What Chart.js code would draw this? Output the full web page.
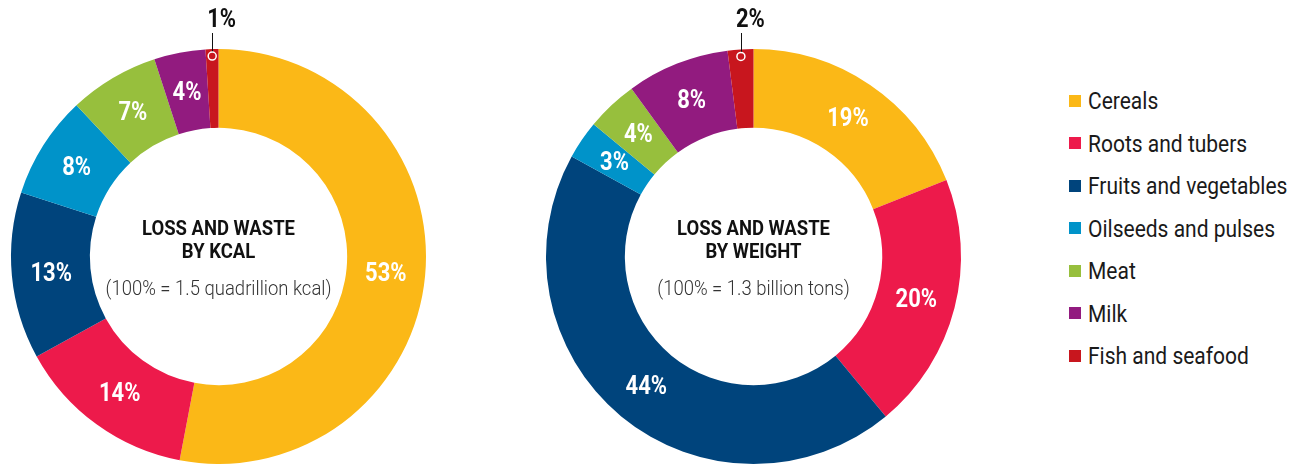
<!DOCTYPE html>
<html>
<head>
<meta charset="utf-8">
<script src="https://cdn.jsdelivr.net/npm/chart.js@4.4.1/dist/chart.umd.min.js"></script>
<style>
  html, body { margin: 0; padding: 0; background: #fff; }
  #wrap { position: relative; width: 1299px; height: 464px; overflow: hidden; }
  .box { position: absolute; top: 0; height: 464px; }
  #leyenda { position: absolute; left: 1069px; top: 80px; font-family: Roboto, sans-serif; font-size: 24px; color: #1a1a1a; }
  #leyenda div { height: 42.5px; line-height: 42.5px; white-space: nowrap; }
  #leyenda span { display: inline-block; width: 12px; height: 12px; margin-right: 7px; vertical-align: middle; position: relative; top: -2px; }
  #leyenda em { font-style: normal; display: inline-block; transform: scaleX(0.875); transform-origin: left center; }
</style>
</head>
<body>
<div id="wrap">
  <div class="box" style="left:0;width:437px"><canvas id="grafico-kcal"></canvas></div>
  <div class="box" style="left:535px;width:438px"><canvas id="grafico-peso"></canvas></div>
  <div id="leyenda"></div>
</div>
<script>
// categorias y valores (porcentajes)
const categorias = ["Cereals", "Roots and tubers", "Fruits and vegetables", "Oilseeds and pulses", "Meat", "Milk", "Fish and seafood"];
const porKcal = [53, 14, 13, 8, 7, 4, 1];
const porPeso = [19, 20, 44, 3, 4, 8, 2];
const colores = ["#FBB817", "#ED1A4B", "#00447C", "#0093C9", "#97BF3D", "#921B7F", "#C8161E"];

const FUENTE = "Roboto, sans-serif";
const ESTRECHO = 0.88; // la fuente original es condensada

// texto estrecho: escala horizontal alrededor de x
function textoEstrecho(ctx, txt, x, y) {
    ctx.save();
    ctx.translate(x, y);
    ctx.scale(ESTRECHO, 1);
    ctx.fillText(txt, 0, 0);
    ctx.restore();
}

// etiquetas de porcentaje + texto central
const etiquetas = {
    id: "etiquetas",
    afterDraw(chart, args, opts) {
        const ctx = chart.ctx;
        const arcos = chart.getDatasetMeta(0).data;
        const valores = chart.data.datasets[0].data;
        ctx.save();
        arcos.forEach((arco, i) => {
            if (i === valores.length - 1) {
                // llamada para el valor pequeño
                const ang = (arco.startAngle + arco.endAngle) / 2;
                const r = arco.outerRadius - 7;
                const x = arco.x + Math.cos(ang) * r;
                const y = arco.y + Math.sin(ang) * r;
                ctx.strokeStyle = "#111";
                ctx.lineWidth = 1;
                ctx.beginPath();
                ctx.moveTo(Math.round(x) + 0.5, y - 4);
                ctx.lineTo(Math.round(x) + 0.5, 33);
                ctx.stroke();
                ctx.beginPath();
                ctx.arc(x, y, 4, 0, Math.PI * 2);
                ctx.fillStyle = colores[i];
                ctx.fill();
                ctx.strokeStyle = "#fff";
                ctx.lineWidth = 1.5;
                ctx.stroke();
                ctx.fillStyle = "#111";
                ctx.font = "bold 25px " + FUENTE;
                ctx.textAlign = "left";
                ctx.textBaseline = "alphabetic";
                textoEstrecho(ctx, valores[i] + "%", x - 5, 27);
                return;
            }
            const p = arco.tooltipPosition();
            ctx.fillStyle = "#fff";
            ctx.font = "bold 25px " + FUENTE;
            ctx.textAlign = "center";
            ctx.textBaseline = "middle";
            textoEstrecho(ctx, valores[i] + "%", p.x, p.y + 2);
        });
        const cx = arcos[0].x, cy = arcos[0].y;
        ctx.textAlign = "center";
        ctx.textBaseline = "middle";
        ctx.fillStyle = "#111";
        ctx.font = "bold 21px " + FUENTE;
        textoEstrecho(ctx, opts.titulo[0], cx, cy - 27);
        textoEstrecho(ctx, opts.titulo[1], cx, cy - 4);
        ctx.fillStyle = "#333";
        ctx.font = "300 21px " + FUENTE;
        textoEstrecho(ctx, opts.nota, cx, cy + 33);
        ctx.restore();
    }
};

function crearDona(id, datos, titulo, nota, padding) {
    new Chart(document.getElementById(id), {
        type: "doughnut",
        data: {
            labels: categorias,
            datasets: [{
                data: datos,
                backgroundColor: colores,
                borderWidth: 0,
            }],
        },
        options: {
            responsive: true,
            maintainAspectRatio: false,
            animation: false,
            cutout: "62%",
            layout: { padding: padding },
            plugins: {
                legend: { display: false },
                tooltip: { enabled: false },
                etiquetas: { titulo: titulo, nota: nota },
            },
        },
        plugins: [etiquetas],
    });
}

crearDona("grafico-kcal", porKcal, ["LOSS AND WASTE", "BY KCAL"], "(100% = 1.5 quadrillion kcal)", { top: 49, bottom: 0, left: 11, right: 11 });
crearDona("grafico-peso", porPeso, ["LOSS AND WASTE", "BY WEIGHT"], "(100% = 1.3 billion tons)", { top: 49, bottom: 0, left: 11, right: 12 });

// leyenda
const leyenda = document.getElementById("leyenda");
categorias.forEach((c, i) => {
    const fila = document.createElement("div");
    fila.innerHTML = `<span style="background:${colores[i]}"></span><em>${c}</em>`;
    leyenda.appendChild(fila);
});
</script>
</body>
</html>
